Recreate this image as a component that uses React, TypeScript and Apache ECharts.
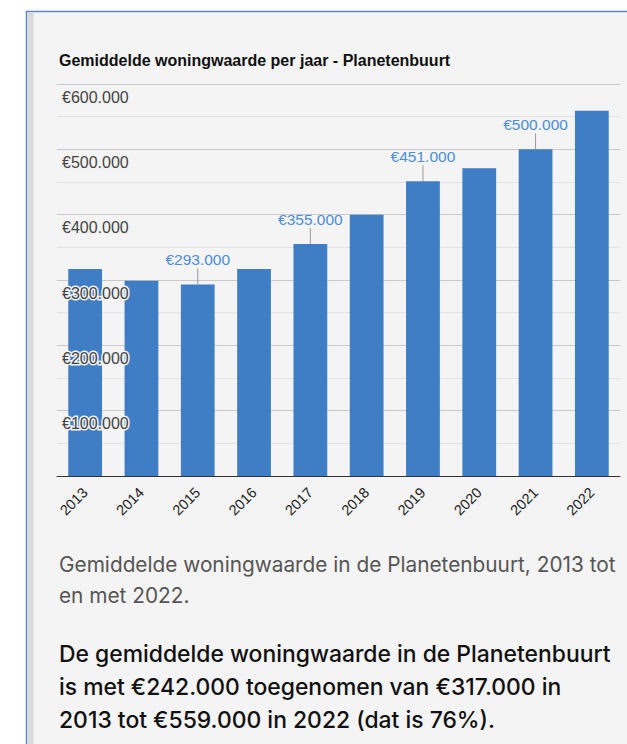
import React, { useEffect, useRef } from "react";
import * as echarts from "echarts";

const TITLE = "Gemiddelde woningwaarde per jaar - Planetenbuurt";
const YEARS = ["2013", "2014", "2015", "2016", "2017", "2018", "2019", "2020", "2021", "2022"];
const VALUES = [317000, 299000, 293000, 317000, 355000, 400000, 451000, 471000, 500000, 559000];
const ANNOTATED_YEARS = ["2015", "2017", "2019", "2021"];
const Y_MAX = 600000;
const Y_STEP = 100000;
const CAPTION_LINES = [
  "Gemiddelde woningwaarde in de Planetenbuurt, 2013 tot",
  "en met 2022.",
];
const PARAGRAPH_LINES = [
  "De gemiddelde woningwaarde in de Planetenbuurt",
  "is met €242.000 toegenomen van €317.000 in",
  "2013 tot €559.000 in 2022 (dat is 76%).",
];

const euro = (v: number) => "€" + String(v).replace(/\B(?=(\d{3})+(?!\d))/g, ".");
const CHART_FONT = "'Liberation Sans', Arial, sans-serif";

export default function App() {
  const ref = useRef<HTMLDivElement>(null);
  useEffect(() => {
    document.body.style.margin = "0";
    const chart = echarts.init(ref.current!, null, { renderer: "svg" });
    const annotated = YEARS.map((y, i) => (ANNOTATED_YEARS.includes(y) ? [i, VALUES[i]] : null)).filter(
      (d) => d !== null
    ) as number[][];

    const captionTexts = CAPTION_LINES.map((t, i) => ({
      type: "text",
      left: 59,
      top: 554 + i * 31,
      style: {
        text: t,
        fill: "#555555",
        font: "20.8px Inter, 'Noto Sans', sans-serif",
      },
    }));
    const paraTexts = PARAGRAPH_LINES.map((t, i) => ({
      type: "text",
      left: 59,
      top: 642 + i * 33,
      style: {
        text: t,
        fill: "#111111",
        font: "500 22.9px Inter, 'Noto Sans', sans-serif",
      },
    }));

    chart.setOption({
      animation: false,
      backgroundColor: "#ffffff",
      title: {
        text: TITLE,
        left: 59,
        top: 52,
        padding: 0,
        textStyle: { fontSize: 16, fontWeight: "bold", color: "#111", fontFamily: CHART_FONT },
      },
      graphic: {
        elements: [
          {
            type: "rect",
            z: -100,
            shape: { x: 26.5, y: 11.5, width: 700, height: 800 },
            style: { fill: "#f4f4f4", stroke: "#5b87c9", lineWidth: 1.5 },
          },
          {
            type: "rect",
            z: -99,
            shape: { x: 27.5, y: 12.5, width: 6, height: 800 },
            style: { fill: "#d9d9d9" },
          },
          ...captionTexts,
          ...paraTexts,
        ],
      },
      grid: { left: 57, right: 7, top: 84, bottom: 268, containLabel: false },
      xAxis: {
        type: "category",
        data: YEARS,
        axisLine: { lineStyle: { color: "#333", width: 1 } },
        axisTick: { show: false },
        axisLabel: {
          rotate: 45,
          margin: 14,
          color: "#222",
          fontSize: 14.5,
          fontFamily: CHART_FONT,
        },
      },
      yAxis: [
        {
          type: "value",
          min: 0,
          max: Y_MAX,
          interval: Y_STEP,
          axisLine: { show: false },
          axisTick: { show: false },
          axisLabel: { show: false },
          splitLine: { lineStyle: { color: "#c9c9c9" } },
          minorTick: { show: false, splitNumber: 2 },
          minorSplitLine: { show: true, lineStyle: { color: "#e2e2e2" } },
        },
        {
          type: "value",
          position: "left",
          min: 0,
          max: Y_MAX,
          interval: Y_STEP,
          z: 10,
          axisLine: { show: false },
          axisTick: { show: false },
          splitLine: { show: false },
          axisLabel: {
            inside: true,
            margin: 5,
            verticalAlign: "top",
            padding: [5, 0, 0, 0],
            color: "#444",
            fontSize: 16,
            fontFamily: CHART_FONT,
            textBorderColor: "#f2f2f2",
            textBorderWidth: 3,
            formatter: (v: number) => (v === 0 ? "" : euro(v)),
          },
        },
      ],
      series: [
        {
          type: "bar",
          yAxisIndex: 0,
          barWidth: "60%",
          itemStyle: { color: "#3f7ec4" },
          data: VALUES.map((v, i) => ({
            value: v,
            label: {
              show: ANNOTATED_YEARS.includes(YEARS[i]),
              position: "top",
              distance: 17,
              color: "#4a8ed6",
              fontSize: 15.5,
              fontFamily: CHART_FONT,
              formatter: () => euro(v),
            },
          })),
        },
        {
          type: "custom",
          yAxisIndex: 0,
          z: 3,
          data: annotated,
          renderItem: (params: any, api: any) => {
            const p = api.coord([api.value(0), api.value(1)]);
            return {
              type: "line",
              shape: { x1: p[0], y1: p[1], x2: p[0], y2: p[1] - 16 },
              style: { stroke: "#999", lineWidth: 1 },
            };
          },
        },
      ],
    });
    return () => chart.dispose();
  }, []);
  return <div ref={ref} style={{ width: 627, height: 744 }} />;
}
